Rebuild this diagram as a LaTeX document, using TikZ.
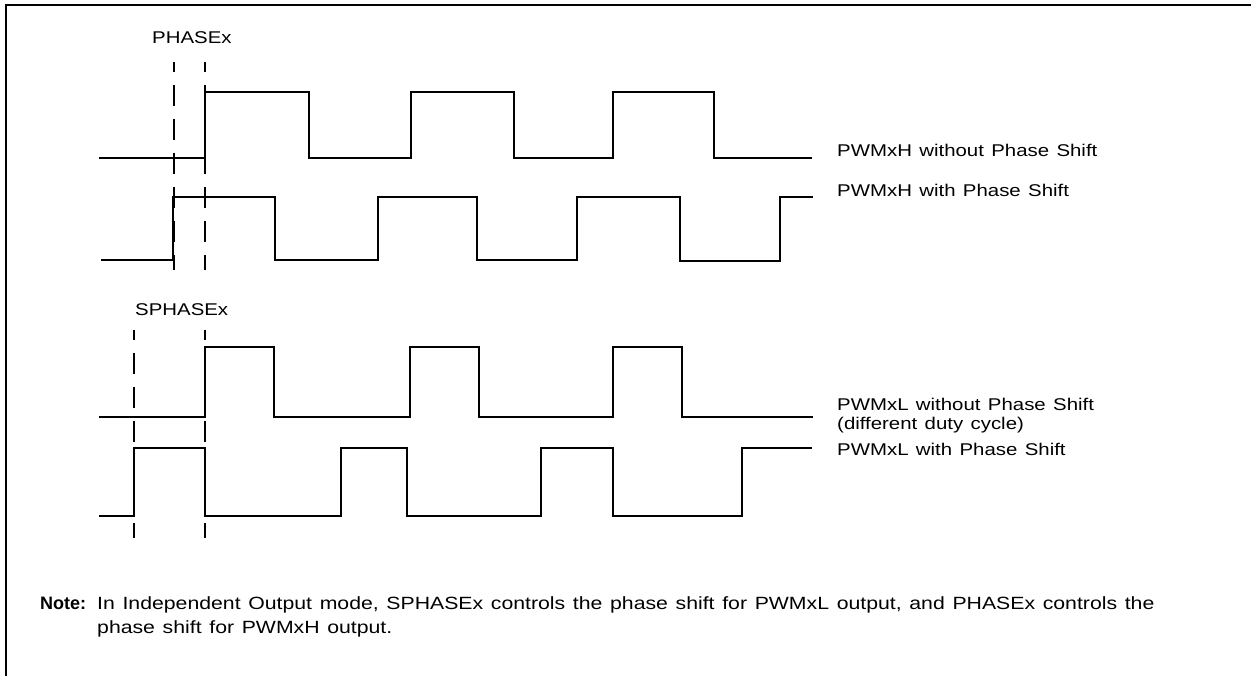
\documentclass[tikz,border=0pt]{standalone}
\usepackage{fontspec}
\setmainfont{Liberation Sans}
\newfontfamily\wavefont[FakeStretch=1.2,WordSpace=1.3]{Liberation Sans}
\begin{document}
\begin{tikzpicture}[x=1pt,y=-1pt,
  wave/.style={line width=2pt},
  guide/.style={line width=2pt, dash pattern=on 21pt off 13pt, dash phase=11pt},
  lbl/.style={anchor=base west, inner sep=0pt, align=left, font=\wavefont\fontsize{17}{19}\selectfont}]
\useasboundingbox (0,0) rectangle (1251,676);
% frame
\draw[line width=2.4pt] (6,676) -- (6,5) -- (1251,5);
% PHASEx
\node[lbl] (phase) at (152,44) {PHASEx};
\draw[guide] (174,62) -- (174,270);
\draw[guide] (205,62) -- (205,270);
\draw[wave] (99,158) -- (205,158) -- (205,92) -- (309,92) -- (309,158) -- (411,158) -- (411,92)
  -- (514,92) -- (514,158) -- (613,158) -- (613,92) -- (714,92) -- (714,158) -- (812,158);
\draw[wave] (101,260) -- (173,260) -- (173,197) -- (275,197) -- (275,260) -- (378,260) -- (378,197)
  -- (477,197) -- (477,260) -- (577,260) -- (577,197) -- (680,197) -- (680,261) -- (780,261)
  -- (780,197) -- (813,197);
\node[lbl] (hnoshift) at (837,157) {PWMxH without Phase Shift};
\node[lbl] (hshift) at (837,197) {PWMxH with Phase Shift};
% SPHASEx
\node[lbl] (sphase) at (135,316) {SPHASEx};
\draw[guide] (134,330) -- (134,538);
\draw[guide] (205,330) -- (205,538);
\draw[wave] (99,417) -- (205,417) -- (205,347) -- (274,347) -- (274,417) -- (410,417) -- (410,347)
  -- (479,347) -- (479,417) -- (613,417) -- (613,347) -- (682,347) -- (682,417) -- (813,417);
\draw[wave] (99,516) -- (134,516) -- (134,448) -- (205,448) -- (205,516) -- (341,516) -- (341,448)
  -- (407,448) -- (407,516) -- (541,516) -- (541,448) -- (613,448) -- (613,516) -- (742,516)
  -- (742,448) -- (812,448);
\node[lbl] (lnoshift) at (837,429) {PWMxL without Phase Shift\\(different duty cycle)};
\node[lbl] (lshift) at (837,455) {PWMxL with Phase Shift};
% note
\node[lbl, font=\bfseries\fontsize{18}{24}\selectfont] (notehead) at (40,609) {Note:};
\node[lbl, font=\wavefont\fontsize{17.7}{24}\selectfont] (notetext) at (97,633) {In Independent Output mode, SPHASEx controls the phase shift for PWMxL output, and PHASEx controls the\\phase shift for PWMxH output.};
\end{tikzpicture}
\end{document}
